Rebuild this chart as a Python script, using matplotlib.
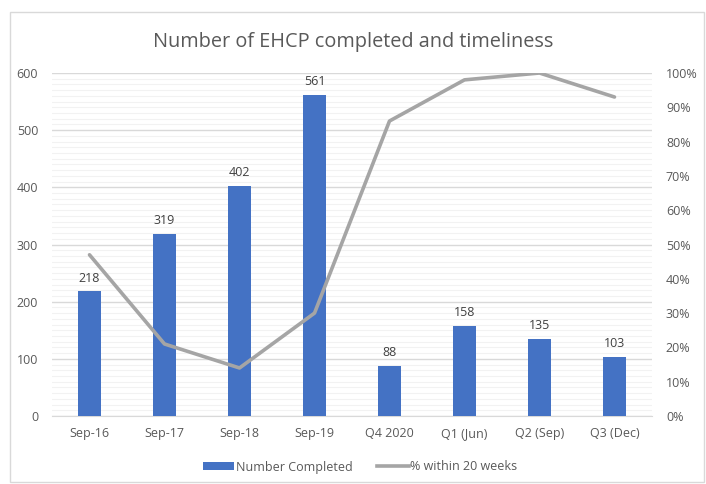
import matplotlib
matplotlib.use("Agg")
import matplotlib.pyplot as plt
from matplotlib.ticker import MultipleLocator, PercentFormatter
from matplotlib.patches import Rectangle
from matplotlib.lines import Line2D
from matplotlib.patches import Patch

categories = ["Sep-16", "Sep-17", "Sep-18", "Sep-19", "Q4 2020", "Q1 (Jun)", "Q2 (Sep)", "Q3 (Dec)"]
completed = [218, 319, 402, 561, 88, 158, 135, 103]
pct_within_20 = [0.47, 0.21, 0.14, 0.30, 0.86, 0.98, 1.00, 0.93]

plt.rcParams['font.family'] = ['Open Sans', 'DejaVu Sans']

fig = plt.figure(figsize=(7.06, 4.84), dpi=100)
fig.patches.append(Rectangle((10/706, 2/484), 694/706, 470/484, transform=fig.transFigure,
                             fill=False, edgecolor='#d9d9d9', linewidth=1))
ax = fig.add_axes([52/706, 1-416/484, 600/706, 343/484])
x = list(range(len(categories)))
bars = ax.bar(x, completed, width=0.3, color='#4472C4', zorder=3)
ax.set_xlim(-0.5, len(categories)-0.5)
ax.set_ylim(0, 600)
ax.yaxis.set_major_locator(MultipleLocator(100))
ax.yaxis.set_minor_locator(MultipleLocator(10))
ax.grid(which='major', axis='y', color='#d9d9d9', linewidth=1, zorder=0)
ax.grid(which='minor', axis='y', color='#f2f2f2', linewidth=0.8, zorder=0)
for s in ['top', 'right', 'left']:
    ax.spines[s].set_visible(False)
ax.spines['bottom'].set_color('#d9d9d9')
ax.tick_params(axis='both', which='both', length=0, colors='#595959', labelsize=9)
ax.tick_params(axis='y', pad=10)
ax.tick_params(axis='x', pad=8)
ax.set_xticks(x)
ax.set_xticklabels(categories)
for xi, v in zip(x, completed):
    ax.text(xi, v + 12, str(v), ha='center', va='bottom', fontsize=9, color='#404040')

ax2 = ax.twinx()
ax2.plot(x, pct_within_20, color='#A5A5A5', linewidth=2.6, zorder=4, solid_capstyle='round')
ax2.set_ylim(0, 1)
ax2.yaxis.set_major_locator(MultipleLocator(0.1))
ax2.yaxis.set_major_formatter(PercentFormatter(1.0, decimals=0))
for s in ['top', 'right', 'left', 'bottom']:
    ax2.spines[s].set_visible(False)
ax2.tick_params(axis='y', length=0, colors='#595959', labelsize=9, pad=10)

fig.text(0.5, 1-42/484, "Number of EHCP completed and timeliness", ha='center', va='center',
         fontsize=14.3, color='#595959')

handles = [Patch(facecolor='#4472C4', edgecolor='none'),
           Line2D([0], [0], color='#A5A5A5', linewidth=2.6)]
fig.legend(handles, ["Number Completed", "% within 20 weeks"], loc='center',
           bbox_to_anchor=(360/706, 1-467/484), ncol=2, frameon=False, fontsize=9,
           labelcolor='#595959', handlelength=2.5, handletextpad=0.1, columnspacing=2.0,
           handleheight=0.6)

fig.savefig("out.png", dpi=100)
